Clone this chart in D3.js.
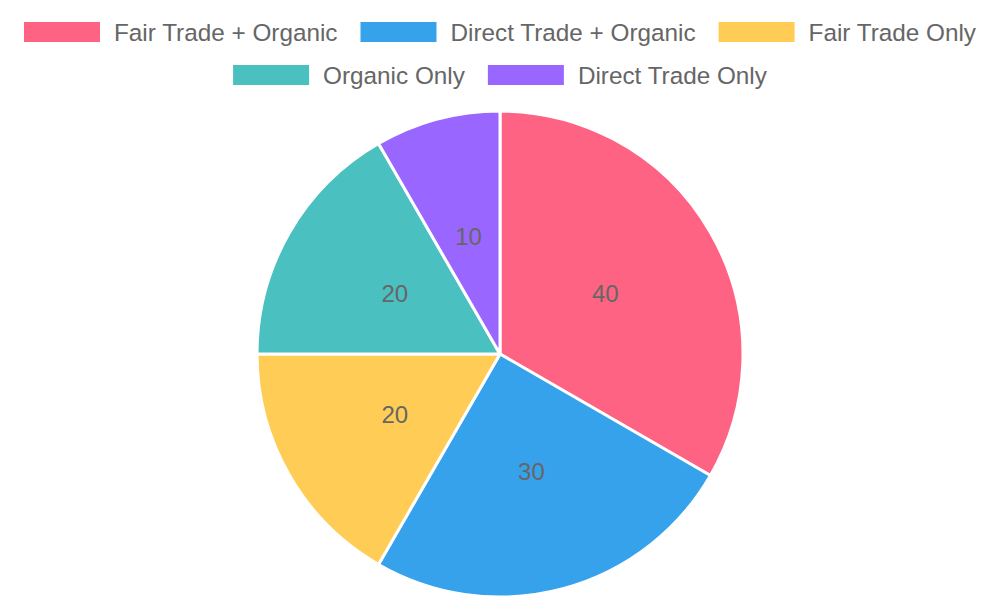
<!DOCTYPE html>
<html><head><meta charset="utf-8">
<script src="https://cdn.jsdelivr.net/npm/d3@7"></script>
<style>html,body{margin:0;padding:0;background:#fff;}</style>
</head><body>
<svg id="c" width="1000" height="600"></svg>
<script>
const categories = ["Fair Trade + Organic","Direct Trade + Organic","Fair Trade Only","Organic Only","Direct Trade Only"];
const values = [40,30,20,20,10];
const colors = ["#ff6384","#36a2eb","#ffcd56","#4bc0c0","#9966ff"];

const svg = d3.select("#c");
const font = "'Liberation Sans', Arial, sans-serif";

// legend
const rows = [[0,1,2],[3,4]];
const boxW = 76, boxH = 20, gapT = 14, itemGap = 23, rowY = [22,65];
const lg = svg.append("g");
rows.forEach((row, ri) => {
  const items = row.map(i => {
    const g = lg.append("g");
    g.append("rect").attr("width", boxW).attr("height", boxH).attr("fill", colors[i]);
    const t = g.append("text").attr("x", boxW + gapT).attr("y", boxH/2).attr("dy", "0.35em")
      .attr("font-family", font).attr("font-size", 24.3).attr("fill", "#666").text(categories[i]);
    const w = boxW + gapT + t.node().getComputedTextLength();
    return {g, w};
  });
  const total = d3.sum(items, d => d.w) + itemGap * (items.length - 1);
  let x = 500 - total/2;
  items.forEach(it => { it.g.attr("transform", `translate(${x},${rowY[ri]})`); x += it.w + itemGap; });
});

// pie
const cx = 500, cy = 354, R = 243;
const pie = d3.pie().sort(null).value(d => d)(values);
const arc = d3.arc().innerRadius(0).outerRadius(R);
const labelArc = d3.arc().innerRadius(R/2).outerRadius(R/2);
const pg = svg.append("g").attr("transform", `translate(${cx},${cy})`);
pg.selectAll("path").data(pie).join("path")
  .attr("d", arc).attr("fill", (d,i) => colors[i])
  .attr("stroke", "#fff").attr("stroke-width", 3).attr("stroke-linejoin", "round");
pg.selectAll("text").data(pie).join("text")
  .attr("transform", d => `translate(${labelArc.centroid(d)})`)
  .attr("text-anchor", "middle").attr("dy", "0.35em")
  .attr("font-family", font).attr("font-size", 24).attr("fill", "#666")
  .text(d => d.data);
</script>
</body></html>
